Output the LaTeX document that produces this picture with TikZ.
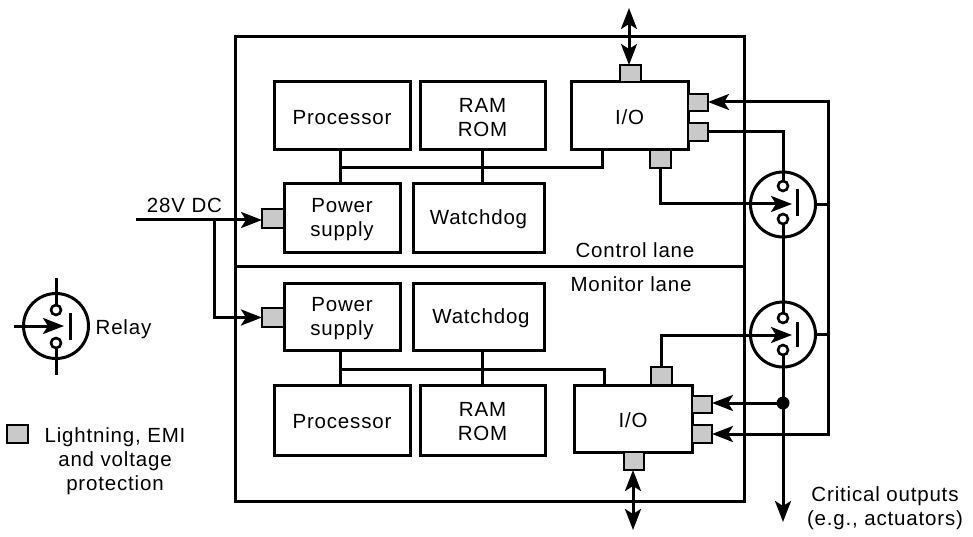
\documentclass[tikz,border=0pt]{standalone}
\usepackage{fontspec}
\setmainfont{Liberation Sans}[LetterSpace=4]
\usetikzlibrary{arrows.meta}
\definecolor{guard}{HTML}{C9C9C9}
\newcommand{\dnstrut}{\rule{0pt}{18pt}}
\tikzset{
  every node/.append style={font=\fontsize{20.5}{24}\selectfont,outer sep=0pt,inner sep=0pt},
  unit/.style={draw,line width=3pt,fill=white,align=center},
  guardbox/.style={draw,line width=1.6pt,fill=guard},
  wire/.style={line width=3pt},
  arr/.style={wire,-{Stealth[length=21pt,width=16pt,inset=5pt]}},
  darr/.style={wire,{Stealth[length=21pt,width=16pt,inset=5pt]}-{Stealth[length=21pt,width=16pt,inset=5pt]}},
  relayring/.style={draw,circle,line width=3pt,minimum size=65pt},
  contact/.style={draw,circle,line width=2.6pt,fill=white,minimum size=10pt},
  lbl/.style={align=center,anchor=center},
}
\newcommand{\bx}[7]{%
  \pgfmathsetmacro{\bxw}{#4-#2}\pgfmathsetmacro{\bxh}{#5-#3}%
  \pgfmathsetmacro{\bxc}{(#4+#2)/2}\pgfmathsetmacro{\bxd}{(#5+#3)/2}%
  \node[#6,minimum width=\bxw pt,minimum height=\bxh pt] (#1) at (\bxc,\bxd) {#7};}
\begin{document}
\begin{tikzpicture}[x=1pt,y=-1pt]
\useasboundingbox (0,0) rectangle (973,537);
% outer box
\bx{lanes}{235}{37}{744}{501}{draw,line width=3pt}{}
\coordinate (divL) at (235,266);
\coordinate (divR) at (744,266);
\draw[wire] (divL) -- (divR);
% control lane
\bx{procU}{274}{82}{410}{150}{unit}{\dnstrut Processor}
\bx{ramU}{420}{82}{545}{150}{unit}{\dnstrut RAM\\ROM}
\bx{ioU}{571}{82}{688}{150}{unit}{\dnstrut I/O}
\bx{psU}{284}{184}{400}{252}{unit}{\dnstrut Power\\supply}
\bx{wdU}{413}{184}{544}{252}{unit}{\dnstrut Watchdog}
% monitor lane
\bx{psL}{284}{283}{400}{350}{unit}{\dnstrut Power\\supply}
\bx{wdL}{413}{283}{544}{350}{unit}{\dnstrut\hspace*{5pt}Watchdog}
\bx{procL}{274}{385}{410}{455}{unit}{\dnstrut Processor}
\bx{ramL}{420}{385}{545}{455}{unit}{\dnstrut RAM\\ROM}
\bx{ioL}{574}{385}{692}{452}{unit}{\dnstrut I/O}
% protection boxes
\bx{gUt}{620}{65}{641}{82}{guardbox}{}
\bx{gUr}{688}{94}{708}{111}{guardbox}{}
\bx{gUs}{688}{123}{708}{141}{guardbox}{}
\bx{gUb}{650}{150}{671}{168}{guardbox}{}
\bx{gLt}{651}{367}{672}{385}{guardbox}{}
\bx{gLr}{692}{396}{712}{413}{guardbox}{}
\bx{gLs}{692}{425}{712}{443}{guardbox}{}
\bx{gLb}{624}{452}{644}{470}{guardbox}{}
\bx{gPU}{262}{209}{284}{228}{guardbox}{}
\bx{gPL}{262}{308}{284}{327}{guardbox}{}
\bx{gKey}{7}{425}{28}{443}{guardbox}{}
% buses
\coordinate (busU) at (340,168);
\draw[wire] (procU.south -| busU) -- (psU.north -| busU);
\coordinate (busUr) at (482,168);
\draw[wire] (ramU.south -| busUr) -- (wdU.north -| busUr);
\coordinate (busUe) at (602,168);
\draw[wire] (busU) -- (busUe) -- (ioU.south -| busUe);
\coordinate (busL) at (340,369);
\draw[wire] (psL.south -| busL) -- (procL.north -| busL);
\coordinate (busLr) at (482,369);
\draw[wire] (wdL.south -| busLr) -- (ramL.north -| busLr);
\coordinate (busLe) at (604,369);
\draw[wire] (busL) -- (busLe) -- (ioL.north -| busLe);
% relays
\node[relayring] (relU) at (783,204.5) {};
\node[relayring] (relL) at (783,334.5) {};
\node[relayring] (relK) at (56,326) {};
\node[contact] (cUa) at (783,186) {};
\node[contact] (cUb) at (783,219) {};
\node[contact] (cLa) at (783,318) {};
\node[contact] (cLb) at (783,350) {};
\node[contact] (cKa) at (56,310) {};
\node[contact] (cKb) at (56,343) {};
\coordinate (barUa) at (797,189); \coordinate (barUb) at (797,216);
\coordinate (barLa) at (797,322); \coordinate (barLb) at (797,347);
\coordinate (barKa) at (70,313); \coordinate (barKb) at (70,340);
\draw[wire] (barUa) -- (barUb);
\draw[wire] (barLa) -- (barLb);
\draw[wire] (barKa) -- (barKb);
% key relay leads
\coordinate (kTop) at (56,278); \coordinate (kBot) at (56,375);
\coordinate (kIn) at (14,326); \coordinate (kTip) at (64,326);
\draw[wire] (kTop) -- (cKa);
\draw[wire] (cKb) -- (kBot);
\draw[arr] (kIn) -- (kTip);
% I/O connections
\coordinate (extTop) at (629,8);
\coordinate (extBot) at (633,530);
\draw[darr] (extTop) -- (gUt.north -| extTop);
\draw[darr] (gLb.south -| extBot) -- (extBot);
\coordinate (rail) at (828,102);
\draw[wire] (relU.east) -- (relU.east -| rail);
\draw[wire] (relL.east) -- (relL.east -| rail);
\draw[darr] (gUr.east |- rail) -- (rail) -- (rail |- gLs.east) -- (gLs.east);
\draw[wire] (gUs.east) -| (cUa.north);
\coordinate (tipU) at (792,204);
\coordinate (tipL) at (792,335);
\draw[arr] (gUb.south) |- (tipU);
\draw[arr] (gLt.north) |- (tipL);
\draw[wire] (cUb.south) -- (cLa.north);
\coordinate (critical) at (783,522);
\draw[arr] (cLb.south) -- (critical);
\node[circle,fill=black,minimum size=13pt] (tap) at (783,403) {};
\draw[arr] (tap.center) -- (tap.center -| gLr.east);
% 28 V
\coordinate (dcIn) at (136,220);
\coordinate (dcTap) at (214,220);
\draw[arr] (dcIn) -- (dcIn -| gPU.west);
\draw[arr] (dcTap) |- (gPL.west);
% labels
\node[lbl] (tDC) at (184.5,205) {28V DC};
\node[lbl] (tCtl) at (635,250) {Control lane};
\node[lbl] (tMon) at (631,284) {Monitor lane};
\node[lbl] (tRel) at (123.5,329) {Relay};
\node[lbl] (tKey) at (115,461) {Lightning, EMI\\and voltage\\protection};
\node[lbl] (tCrit) at (885,508) {Critical outputs\\(e.g., actuators)};
\end{tikzpicture}
\end{document}
